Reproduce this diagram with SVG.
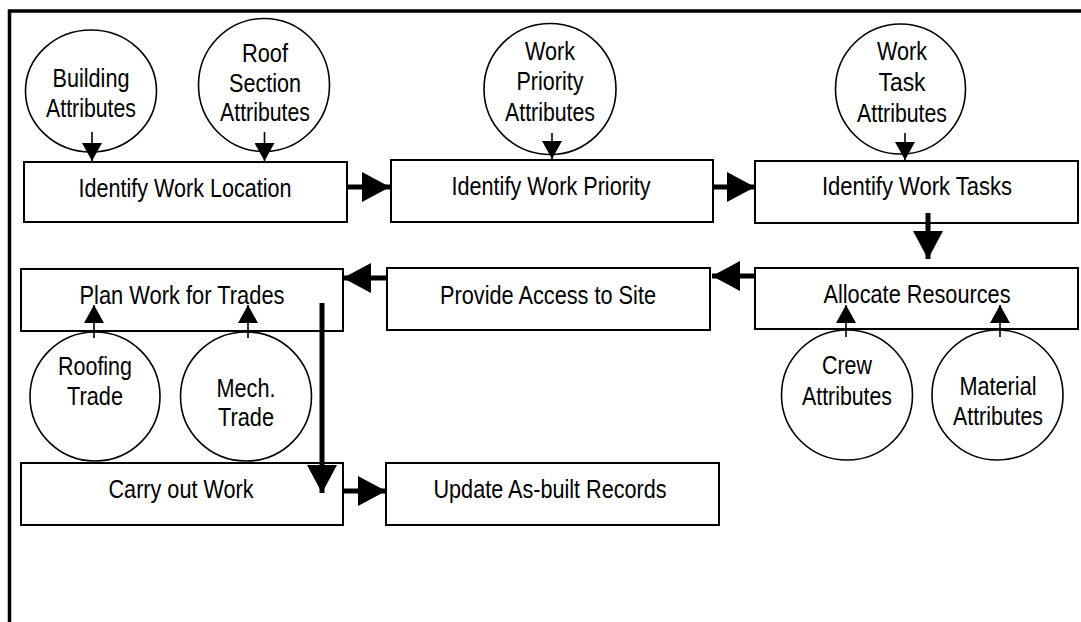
<svg xmlns="http://www.w3.org/2000/svg" width="1081" height="622" viewBox="0 0 1081 622">
<style>
.box{fill:#fff;stroke:#000;stroke-width:2}
.circ{fill:#fff;stroke:#000;stroke-width:1.6}
.t{font-family:"Liberation Sans",Arial,sans-serif;font-size:26px;fill:#000;text-anchor:middle}
.thin{stroke:#000;stroke-width:1.6;fill:none}
.thick{stroke:#000;stroke-width:5;fill:none}
.frame{stroke:#000;stroke-width:3.5;fill:none}
</style>
<defs>
<marker id="ah" viewBox="0 0 18 20" refX="18" refY="10" markerWidth="18" markerHeight="20" markerUnits="userSpaceOnUse" orient="auto">
<path d="M0,0 L18,10 L0,20 Z" fill="#000"/>
</marker>
<marker id="AH" viewBox="0 0 28 30" refX="28" refY="15" markerWidth="28" markerHeight="30" markerUnits="userSpaceOnUse" orient="auto">
<path d="M0,0 L28,15 L0,30 Z" fill="#000"/>
</marker>
</defs>
<rect width="1081" height="622" fill="#fff"/>
<path class="frame" d="M9.5,622 V11 H1081"/>

<g id="building-attributes">
<ellipse class="circ" cx="91" cy="91" rx="65.5" ry="61"/>
<text class="t" x="91" y="87" textLength="77" lengthAdjust="spacingAndGlyphs">Building</text>
<text class="t" x="91" y="117" textLength="90" lengthAdjust="spacingAndGlyphs">Attributes</text>
</g>
<g id="roof-section-attributes">
<ellipse class="circ" cx="264" cy="85" rx="65.5" ry="66.5"/>
<text class="t" x="265" y="62" textLength="46" lengthAdjust="spacingAndGlyphs">Roof</text>
<text class="t" x="265" y="92" textLength="72" lengthAdjust="spacingAndGlyphs">Section</text>
<text class="t" x="265" y="121" textLength="90" lengthAdjust="spacingAndGlyphs">Attributes</text>
</g>
<g id="work-priority-attributes">
<ellipse class="circ" cx="550" cy="89" rx="66" ry="65.5"/>
<text class="t" x="550" y="60" textLength="50" lengthAdjust="spacingAndGlyphs">Work</text>
<text class="t" x="550" y="90" textLength="67" lengthAdjust="spacingAndGlyphs">Priority</text>
<text class="t" x="550" y="121" textLength="90" lengthAdjust="spacingAndGlyphs">Attributes</text>
</g>
<g id="work-task-attributes">
<ellipse class="circ" cx="900.5" cy="89" rx="65" ry="65"/>
<text class="t" x="902" y="60" textLength="50" lengthAdjust="spacingAndGlyphs">Work</text>
<text class="t" x="902" y="91" textLength="47" lengthAdjust="spacingAndGlyphs">Task</text>
<text class="t" x="902" y="122" textLength="90" lengthAdjust="spacingAndGlyphs">Attributes</text>
</g>

<g id="identify-work-location">
<rect class="box" x="24" y="162" width="323" height="60"/>
<text class="t" x="185" y="197" textLength="213" lengthAdjust="spacingAndGlyphs">Identify Work Location</text>
</g>
<g id="identify-work-priority">
<rect class="box" x="391" y="160" width="322" height="62"/>
<text class="t" x="551" y="195" textLength="199" lengthAdjust="spacingAndGlyphs">Identify Work Priority</text>
</g>
<g id="identify-work-tasks">
<rect class="box" x="755" y="161" width="323" height="62"/>
<text class="t" x="917" y="195" textLength="190" lengthAdjust="spacingAndGlyphs">Identify Work Tasks</text>
</g>
<g id="allocate-resources">
<rect class="box" x="755" y="268" width="323" height="61"/>
<text class="t" x="917" y="303" textLength="187" lengthAdjust="spacingAndGlyphs">Allocate Resources</text>
</g>
<g id="provide-access-to-site">
<rect class="box" x="387" y="268" width="323" height="62"/>
<text class="t" x="548" y="304" textLength="216" lengthAdjust="spacingAndGlyphs">Provide Access to Site</text>
</g>
<g id="plan-work-for-trades">
<rect class="box" x="21" y="269" width="322" height="62"/>
<text class="t" x="182" y="304" textLength="205" lengthAdjust="spacingAndGlyphs">Plan Work for Trades</text>
</g>
<g id="carry-out-work">
<rect class="box" x="21" y="463" width="322" height="62"/>
<text class="t" x="181" y="498" textLength="145" lengthAdjust="spacingAndGlyphs">Carry out Work</text>
</g>
<g id="update-as-built-records">
<rect class="box" x="386" y="463" width="333" height="62"/>
<text class="t" x="550" y="498" textLength="233" lengthAdjust="spacingAndGlyphs">Update As-built Records</text>
</g>

<g id="crew-attributes">
<ellipse class="circ" cx="847" cy="395" rx="65.5" ry="65"/>
<text class="t" x="847" y="374" textLength="50" lengthAdjust="spacingAndGlyphs">Crew</text>
<text class="t" x="847" y="405" textLength="90" lengthAdjust="spacingAndGlyphs">Attributes</text>
</g>
<g id="material-attributes">
<ellipse class="circ" cx="997.5" cy="395" rx="65.5" ry="65"/>
<text class="t" x="998" y="395" textLength="77" lengthAdjust="spacingAndGlyphs">Material</text>
<text class="t" x="998" y="425" textLength="90" lengthAdjust="spacingAndGlyphs">Attributes</text>
</g>
<g id="roofing-trade">
<ellipse class="circ" cx="95" cy="396.5" rx="65" ry="64.5"/>
<text class="t" x="95" y="375" textLength="74" lengthAdjust="spacingAndGlyphs">Roofing</text>
<text class="t" x="95" y="405" textLength="56" lengthAdjust="spacingAndGlyphs">Trade</text>
</g>
<g id="mech-trade">
<ellipse class="circ" cx="246" cy="396.5" rx="65.5" ry="64.5"/>
<text class="t" x="246" y="397" textLength="59" lengthAdjust="spacingAndGlyphs">Mech.</text>
<text class="t" x="246" y="426" textLength="56" lengthAdjust="spacingAndGlyphs">Trade</text>
</g>

<g id="connectors">
<line class="thin" x1="92" y1="132" x2="92" y2="161" marker-end="url(#ah)"/>
<line class="thin" x1="264.5" y1="132" x2="264.5" y2="161" marker-end="url(#ah)"/>
<line class="thin" x1="552" y1="133" x2="552" y2="159" marker-end="url(#ah)"/>
<line class="thin" x1="905" y1="133" x2="905" y2="160" marker-end="url(#ah)"/>
<line class="thin" x1="846" y1="337" x2="846" y2="305" marker-end="url(#ah)"/>
<line class="thin" x1="1000" y1="337" x2="1000" y2="305" marker-end="url(#ah)"/>
<line class="thin" x1="94" y1="338" x2="94" y2="305" marker-end="url(#ah)"/>
<line class="thin" x1="248" y1="338" x2="248" y2="305" marker-end="url(#ah)"/>
<line class="thick" x1="347" y1="187" x2="390" y2="187" marker-end="url(#AH)"/>
<line class="thick" x1="713" y1="187" x2="755" y2="187" marker-end="url(#AH)"/>
<line class="thick" x1="928" y1="213" x2="928" y2="259" marker-end="url(#AH)"/>
<line class="thick" x1="755" y1="276" x2="712" y2="276" marker-end="url(#AH)"/>
<line class="thick" x1="387" y1="278" x2="343" y2="278" marker-end="url(#AH)"/>
<line class="thick" x1="322" y1="303" x2="322" y2="493" marker-end="url(#AH)"/>
<line class="thick" x1="343" y1="491" x2="386" y2="491" marker-end="url(#AH)"/>
</g>
</svg>
